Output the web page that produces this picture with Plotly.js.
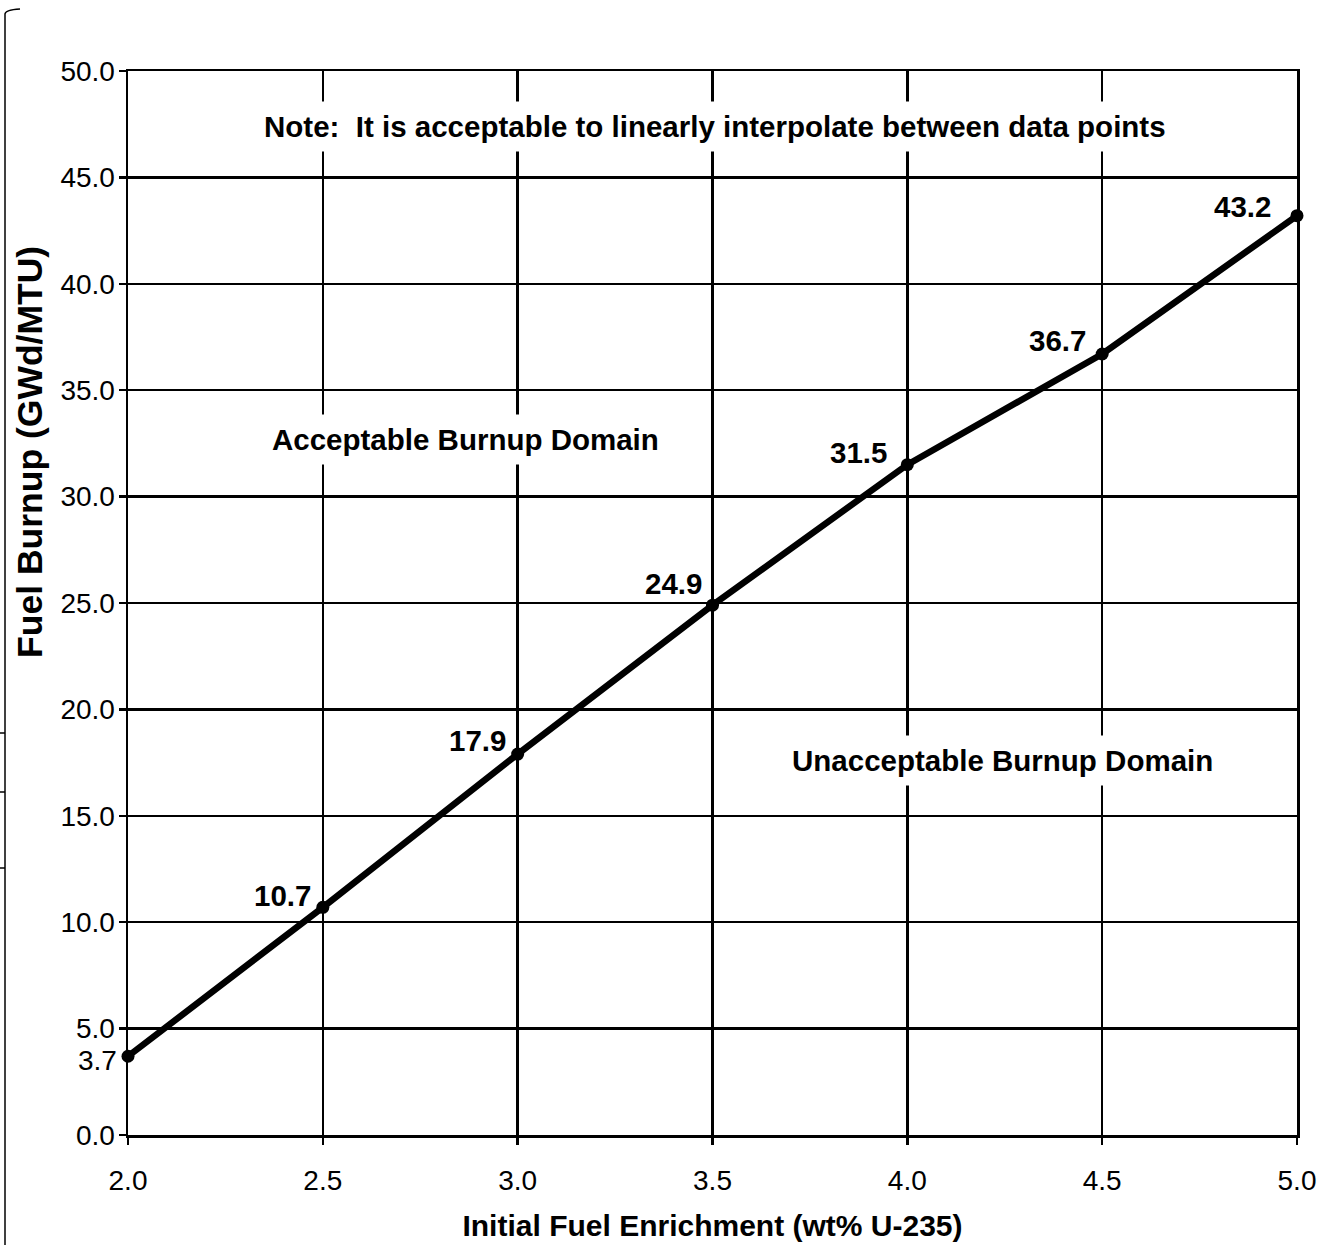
<!DOCTYPE html>
<html>
<head>
<meta charset="utf-8">
<script src="https://cdn.plot.ly/plotly-3.0.1.min.js"></script>
<style>html,body{margin:0;padding:0;background:#fff;}#chart{width:1319px;height:1245px;}</style>
</head>
<body>
<div id="chart"></div>
<script>
// ---- data ----
const enrichment = [2.0, 2.5, 3.0, 3.5, 4.0, 4.5, 5.0];
const burnup = [3.7, 10.7, 17.9, 24.9, 31.5, 36.7, 43.2];
const xTicks = [2.0, 2.5, 3.0, 3.5, 4.0, 4.5, 5.0];
const yTicks = [0, 5, 10, 15, 20, 25, 30, 35, 40, 45, 50];
const xTitle = 'Initial Fuel Enrichment (wt% U-235)';
const yTitle = 'Fuel Burnup (GWd/MTU)';
const noteText = 'Note:  It is acceptable to linearly interpolate between data points';
const regionLabels = ['Acceptable Burnup Domain', 'Unacceptable Burnup Domain'];

// ---- styling / positions ----
const FONT = '"Liberation Sans", Arial, sans-serif';
const BOLD = 29.5;
const labelShift = [null, [-40, 12], [-40, 14], [-39, 22], [-49, 12], [-45, 14], [-55, 9]];
const regionPos = [[2.865, 32.7], [4.245, 17.58]];

const annotations = [];
// data labels (first point labelled on the axis)
enrichment.forEach((x, i) => {
  if (i === 0) {
    annotations.push({xref: 'paper', yref: 'y', x: 0, y: burnup[i], xanchor: 'right', yanchor: 'middle',
      xshift: -9, yshift: -4, text: burnup[i].toFixed(1), showarrow: false, font: {family: FONT, size: 28, color: '#000'}});
  } else {
    annotations.push({x: x, y: burnup[i], xanchor: 'center', yanchor: 'middle',
      xshift: labelShift[i][0], yshift: labelShift[i][1], text: burnup[i].toFixed(1), showarrow: false,
      font: {family: FONT, size: BOLD, color: '#000', weight: 700}});
  }
});
annotations.push({x: 3.506, y: 47.37, text: noteText, showarrow: false, bgcolor: '#fff', borderpad: 8,
  font: {family: FONT, size: BOLD, color: '#000', weight: 700}});
regionLabels.forEach((t, i) => {
  annotations.push({x: regionPos[i][0], y: regionPos[i][1], text: t, showarrow: false, bgcolor: '#fff', borderpad: 8,
    font: {family: FONT, size: BOLD, color: '#000', weight: 700}});
});
annotations.push({xref: 'paper', yref: 'paper', x: -0.0838, y: 0.642, text: yTitle, textangle: -90,
  showarrow: false, xanchor: 'center', yanchor: 'middle', font: {family: FONT, size: 35.5, color: '#000', weight: 700}});

// page artefacts at the left edge
const px = v => (v - 128) / 1169;
const py = v => (1135 - v) / 1064;
const ln = {color: '#000', width: 1.5};
const shapes = [
  {type: 'line', xref: 'paper', yref: 'paper', x0: px(5), x1: px(5), y0: py(14), y1: py(1250), line: ln},
  {type: 'path', xref: 'paper', yref: 'paper', path: `M ${px(5)},${py(14)} Q ${px(5)},${py(10)} ${px(20)},${py(9)}`, line: ln},
  {type: 'line', xref: 'paper', yref: 'paper', x0: px(-2), x1: px(5), y0: py(733), y1: py(733), line: ln},
  {type: 'line', xref: 'paper', yref: 'paper', x0: px(-2), x1: px(5), y0: py(792), y1: py(792), line: ln},
  {type: 'line', xref: 'paper', yref: 'paper', x0: px(-2), x1: px(5), y0: py(868), y1: py(868), line: ln}
];

const trace = {
  x: enrichment, y: burnup, type: 'scatter', mode: 'lines+markers',
  line: {color: '#000', width: 6.5}, marker: {color: '#000', size: 13}, cliponaxis: false, hoverinfo: 'x+y'
};

const axisCommon = {
  showgrid: true, gridcolor: '#000', gridwidth: 2.5, showline: true, linecolor: '#000', linewidth: 2.5,
  mirror: true, ticks: 'outside', ticklen: 7, tickwidth: 2.5, tickcolor: '#000', zeroline: false,
  tickfont: {family: FONT, size: 28, color: '#000'}, fixedrange: true
};

const layout = {
  width: 1319, height: 1245,
  margin: {l: 128, r: 22, t: 71, b: 110},
  paper_bgcolor: '#fff', plot_bgcolor: '#fff', showlegend: false,
  font: {family: FONT, color: '#000'},
  xaxis: Object.assign({}, axisCommon, {
    range: [2, 5], tickmode: 'array', tickvals: xTicks, ticktext: xTicks.map(v => v.toFixed(1)),
    ticklabelstandoff: 12,
    title: {text: xTitle, font: {family: FONT, size: 30, color: '#000', weight: 700}, standoff: 20}
  }),
  yaxis: Object.assign({}, axisCommon, {
    range: [0, 50], tickmode: 'array', tickvals: yTicks, ticktext: yTicks.map(v => v.toFixed(1)),
    ticklabelstandoff: -2
  }),
  annotations: annotations,
  shapes: shapes
};

Plotly.newPlot('chart', [trace], layout, {displayModeBar: false, staticPlot: true});
</script>
</body>
</html>
